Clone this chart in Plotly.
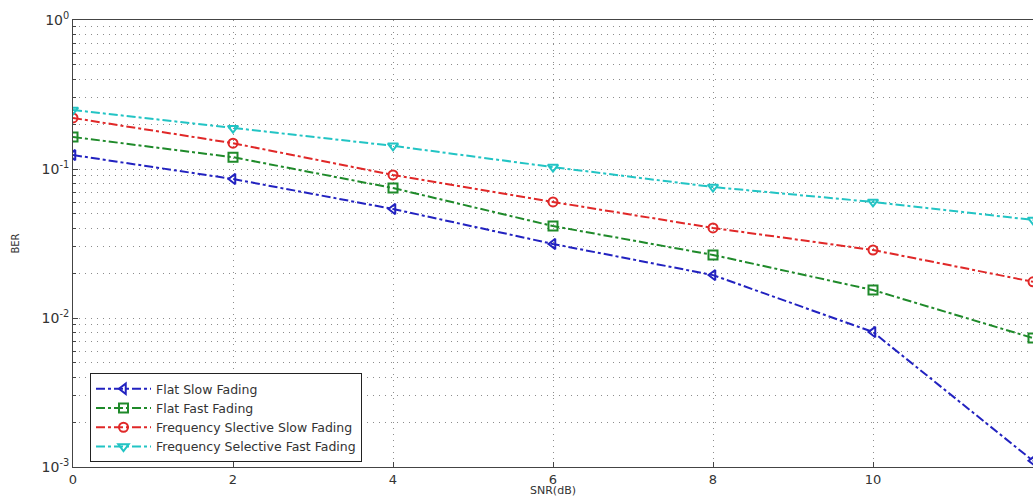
import plotly.graph_objects as go

snr = [0, 2, 4, 6, 8, 10, 12]
flat_slow = [0.124, 0.0857, 0.0539, 0.0314, 0.0194, 0.00805, 0.0011]
flat_fast = [0.164, 0.120, 0.0745, 0.0414, 0.0265, 0.0154, 0.00734]
fs_slow = [0.220, 0.149, 0.0912, 0.0601, 0.0402, 0.0286, 0.0175]
fs_fast = [0.249, 0.188, 0.143, 0.103, 0.0757, 0.0601, 0.0455]

names = ["Flat Slow Fading", "Flat Fast Fading",
         "Frequency Slective Slow Fading", "Frequency Selective Fast Fading"]
series = [flat_slow, flat_fast, fs_slow, fs_fast]
colors = ["#2222c0", "#1f8a2a", "#e02828", "#22c4c4"]
symbols = ["triangle-left-open", "square-open", "circle-open", "triangle-down-open"]

y_major = [1e-3, 1e-2, 1e-1, 1e0]
y_major_text = ["10<sup>-3</sup>", "10<sup>-2</sup>", "10<sup>-1</sup>", "10<sup>0</sup>"]
y_minor = [m * 10 ** e for e in (-3, -2, -1) for m in range(2, 10)]
x_ticks = [0, 2, 4, 6, 8, 10, 12]

fig = go.Figure()
for name, vals, c, s in zip(names, series, colors, symbols):
    fig.add_trace(go.Scatter(
        x=snr, y=vals, name=name, mode="lines+markers",
        line=dict(color=c, width=2, dash="dashdot"),
        marker=dict(symbol=s, size=9, color=c, line=dict(width=2, color=c)),
    ))

grid_col = "#8c8c8c"
dot = "1px,5px"
fig.update_layout(
    template="none",
    width=1033, height=497,
    margin=dict(l=73, r=0, t=20, b=30, pad=0),
    paper_bgcolor="white", plot_bgcolor="white",
    font=dict(family="DejaVu Sans, Liberation Sans, sans-serif", size=12, color="#333333"),
    showlegend=True,
    legend=dict(x=0.0177, y=0.21, xanchor="left", yanchor="top",
                bgcolor="white", bordercolor="#222222", borderwidth=1,
                font=dict(size=12.5, color="#333333"), tracegroupgap=0,
                itemwidth=55),
)
fig.update_xaxes(
    range=[0, 12], tickvals=x_ticks, ticks="inside", ticklen=5, tickcolor="#444444",
    showline=True, linecolor="#444444", linewidth=1, mirror=True,
    showgrid=True, gridcolor=grid_col, griddash=dot, gridwidth=1,
    zeroline=False, automargin=False,
    title=dict(text="SNR(dB)", standoff=10, font=dict(size=11)),
    tickfont=dict(size=13),
)
fig.update_yaxes(
    type="log", range=[-3, 0], tickvals=y_major, ticktext=y_major_text,
    ticks="inside", ticklen=5, tickcolor="#444444",
    showline=True, linecolor="#444444", linewidth=1, mirror=True,
    showgrid=True, gridcolor=grid_col, griddash=dot, gridwidth=1,
    minor=dict(tickvals=y_minor, ticks="inside", ticklen=3, tickcolor="#444444",
               showgrid=True, gridcolor=grid_col, griddash=dot, gridwidth=1),
    zeroline=False, automargin=False,
    title=dict(text="BER", standoff=20, font=dict(size=10)),
    tickfont=dict(size=14),
)

fig.write_html("out.html", config={"displayModeBar": False},
               post_script="document.body.style.margin='0';")
